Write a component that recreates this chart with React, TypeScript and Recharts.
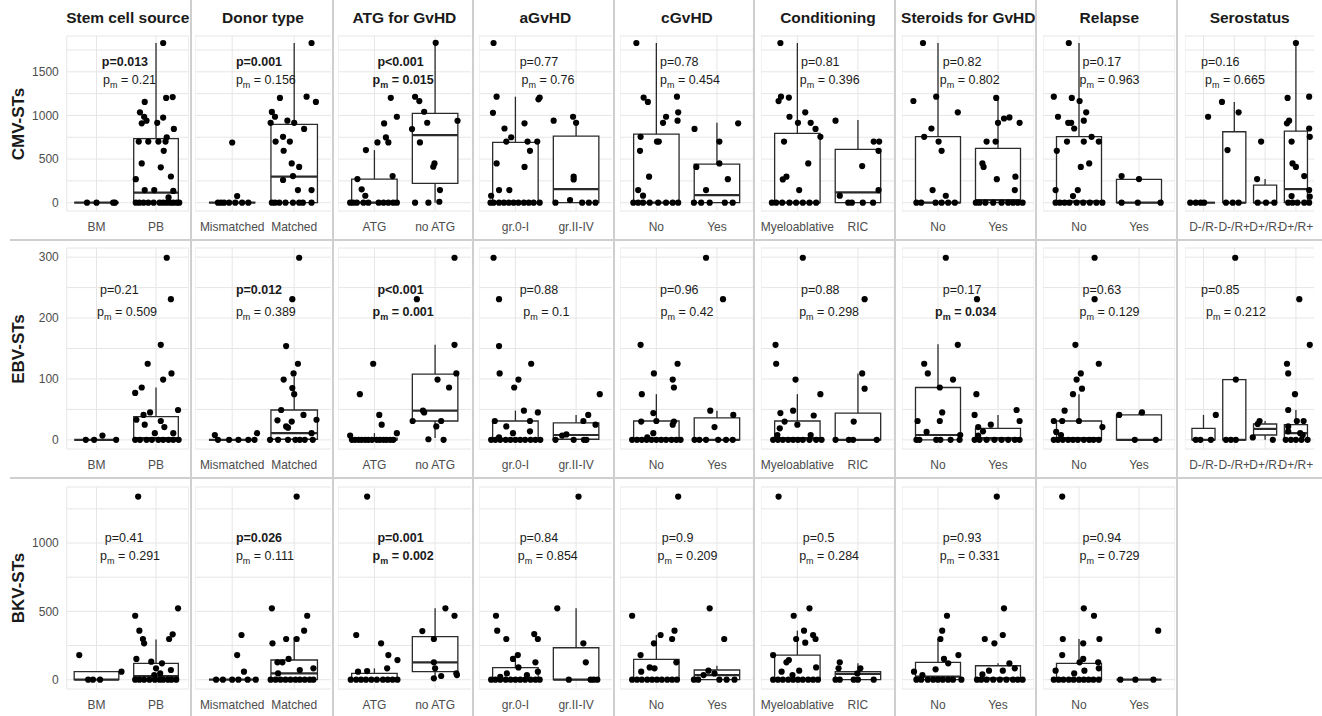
import React from 'react';
import {
  ComposedChart,
  Scatter,
  XAxis,
  YAxis,
  CartesianGrid,
  ReferenceArea,
  ReferenceLine,
  ReferenceDot,
} from 'recharts';

// ---- categories / labels ----
const ROW_LABELS = ['CMV-STs', 'EBV-STs', 'BKV-STs'];
const FACTORS = [
  'Stem cell source',
  'Donor type',
  'ATG for GvHD',
  'aGvHD',
  'cGvHD',
  'Conditioning',
  'Steroids for GvHD',
  'Relapse',
  'Serostatus',
];
const LEVELS = [
  ['BM', 'PB'],
  ['Mismatched', 'Matched'],
  ['ATG', 'no ATG'],
  ['gr.0-I', 'gr.II-IV'],
  ['No', 'Yes'],
  ['Myeloablative', 'RIC'],
  ['No', 'Yes'],
  ['No', 'Yes'],
  ['D-/R-', 'D-/R+', 'D+/R-', 'D+/R+'],
];

// ---- y axis ticks ----
const Y_MAJOR = [[0, 500, 1000, 1500], [0, 100, 200, 300], [0, 500, 1000]];
const Y_MINOR = [[250, 750, 1250, 1750], [50, 150, 250], [250, 750, 1250]];

// ---- jittered points: per factor, per level, [x offset, value] ----
const cmvPoints = [
  [
    [[-0.16, 0], [0, 0], [0.28, 0], [0.31, 0]],
    [[0.12, 1830], [-0.19, 1155], [0.17, 1200], [0.28, 1210], [-0.27, 1035], [-0.2, 985], [-0.24, 910], [-0.16, 940], [0.02, 915], [0.12, 975], [0.3, 845], [0.18, 750], [-0.29, 700], [-0.13, 700], [0.04, 700], [0.16, 700], [0.13, 595], [-0.24, 450], [0.08, 405], [0.25, 300], [-0.34, 270], [-0.19, 145], [-0.03, 145], [0.29, 135], [0.21, 60], [-0.34, 0], [-0.28, 0], [-0.21, 0], [-0.13, 0], [-0.04, 0], [0.06, 0], [0.12, 0], [0.18, 0], [0.24, 0], [0.29, 0], [0.35, 0], [0.39, 0]],
  ],
  [
    [[0, 690], [0.08, 76], [-0.23, 0], [-0.18, 0], [-0.13, 0], [-0.05, 0], [0.05, 0], [0.16, 0], [0.26, 0]],
    [[0.28, 1830], [-0.23, 1200], [0.2, 1215], [0.35, 1155], [-0.36, 1040], [-0.31, 985], [-0.38, 915], [-0.11, 940], [0, 915], [0.16, 845], [-0.18, 755], [-0.3, 700], [-0.07, 700], [-0.17, 595], [-0.04, 450], [0.08, 410], [-0.18, 260], [-0.02, 305], [0.06, 145], [0.28, 145], [-0.36, 0], [-0.31, 0], [-0.24, 0], [-0.14, 0], [-0.02, 0], [0.08, 0], [0.14, 0], [0.28, 0]],
  ],
  [
    [[0.27, 1202], [0.37, 985], [0.16, 908], [0.19, 748], [0.05, 691], [0.23, 691], [-0.14, 603], [-0.28, 271], [0.3, 305], [-0.21, 153], [-0.15, 80], [-0.4, 0], [-0.35, 0], [-0.29, 0], [-0.18, 0], [-0.1, 0], [0.07, 0], [0.15, 0], [0.23, 0], [0.31, 0], [0.37, 0]],
    [[0.01, 1832], [-0.33, 1214], [-0.26, 1164], [-0.18, 1042], [-0.13, 916], [0.37, 939], [-0.38, 844], [-0.25, 691], [-0.01, 450], [-0.03, 412], [0.08, 145], [-0.33, 0], [-0.11, 0], [0.07, 11]],
  ],
  [
    [[-0.36, 1830], [-0.31, 1215], [-0.37, 1030], [-0.18, 850], [-0.15, 700], [-0.07, 750], [0.15, 910], [0.2, 700], [0.36, 700], [0.24, 595], [-0.31, 450], [0.15, 410], [-0.27, 145], [-0.1, 145], [-0.4, 80], [0.38, 1185], [0.4, 1205], [-0.41, 0], [-0.36, 0], [-0.27, 0], [-0.19, 0], [-0.11, 0], [-0.03, 0], [0.05, 0], [0.14, 0], [0.22, 0], [0.3, 0], [0.4, 0]],
    [[-0.37, 940], [-0.05, 985], [0, 915], [-0.04, 298], [-0.04, 267], [-0.1, 30], [-0.34, 0], [0.1, 0], [0.21, 0], [0.32, 0]],
  ],
  [
    [[-0.33, 1830], [-0.21, 1205], [-0.14, 1155], [0.34, 1215], [0.36, 1035], [0.16, 985], [0.11, 915], [0.35, 940], [-0.26, 755], [0.01, 700], [0.04, 700], [-0.27, 595], [-0.12, 298], [-0.3, 145], [-0.22, 80], [-0.38, 0], [-0.3, 0], [-0.22, 0], [-0.11, 0], [0.03, 0], [0.16, 0], [0.27, 0], [0.36, 0]],
    [[-0.37, 845], [0.04, 700], [0.35, 910], [0.04, 450], [-0.34, 410], [0.18, 270], [-0.18, 145], [-0.38, 0], [-0.26, 0], [-0.12, 0], [0.13, 0], [0.26, 0]],
  ],
  [
    [[-0.28, 1830], [-0.31, 1165], [-0.27, 1215], [-0.14, 1205], [-0.13, 985], [0.13, 1035], [0.01, 915], [0.22, 915], [0.3, 845], [0.38, 755], [-0.22, 700], [0.18, 450], [-0.18, 298], [-0.24, 267], [0.03, 145], [-0.42, 0], [-0.35, 0], [-0.25, 0], [-0.13, 0], [-0.02, 0], [0.09, 0], [0.2, 0], [0.31, 0]],
    [[-0.37, 940], [0.26, 700], [0.35, 700], [0.34, 595], [0.07, 420], [0.34, 145], [-0.3, 80], [-0.16, 0], [-0.1, 0], [0.08, 0], [0.25, 0]],
  ],
  [
    [[-0.25, 1830], [-0.41, 1165], [-0.03, 1215], [0.33, 1035], [-0.11, 850], [-0.23, 755], [0.01, 700], [0.06, 595], [-0.09, 145], [0.13, 80], [-0.36, 0], [-0.28, 0], [-0.04, 0], [0.06, 0], [0.17, 0], [0.28, 0]],
    [[-0.03, 1200], [0, 915], [0.1, 965], [0.19, 977], [0.36, 915], [-0.19, 700], [-0.04, 700], [-0.26, 450], [-0.24, 410], [-0.02, 270], [0.29, 298], [0.28, 145], [-0.37, 0], [-0.31, 0], [-0.21, 0], [-0.08, 0], [0.06, 0], [0.17, 0], [0.25, 0], [0.33, 0], [0.41, 0]],
  ],
  [
    [[-0.17, 1830], [-0.42, 1215], [-0.12, 1200], [0.01, 1165], [-0.35, 985], [-0.18, 915], [-0.13, 915], [0.12, 1035], [0.08, 940], [-0.08, 850], [0.21, 755], [-0.2, 700], [0.08, 700], [0.33, 700], [-0.37, 595], [0.17, 450], [0.03, 410], [-0.39, 145], [-0.02, 145], [-0.1, 76], [-0.39, 0], [-0.32, 0], [-0.24, 0], [-0.16, 0], [-0.04, 0], [0.07, 0], [0.18, 0], [0.29, 0], [0.39, 0]],
    [[-0.29, 305], [0, 271], [-0.29, 0], [-0.02, 0], [0.36, 0]],
  ],
  [
    [[0.15, 985], [-0.43, 0], [-0.25, 0], [-0.09, 0], [0.02, 0]],
    [[-0.4, 1155], [0.14, 1035], [-0.22, 603], [-0.27, 0], [-0.05, 0], [0.14, 0]],
    [[-0.13, 700], [-0.26, 271], [-0.24, 0], [0.03, 0], [0.3, 0]],
    [[0, 1830], [-0.27, 1200], [0.43, 1215], [-0.29, 910], [-0.22, 940], [0.43, 850], [0.45, 755], [-0.14, 700], [-0.11, 450], [0, 410], [0.27, 305], [0.43, 145], [-0.14, 76], [0.45, 69], [-0.25, 0], [-0.11, 0], [0.05, 0], [0.27, 0], [0.43, 0]],
  ],
];

const ebvPoints = [
  [
    [[-0.18, 0], [-0.04, 0], [0.1, 7], [0.33, 0]],
    [[0.18, 299], [0.25, 231], [0.08, 156], [-0.14, 125], [0.26, 109], [0.12, 99], [-0.24, 86], [-0.35, 77], [0.37, 49], [-0.1, 45], [-0.21, 41], [-0.33, 33], [0.08, 31], [-0.19, 25], [0.14, 21], [-0.02, 11], [0.29, 11], [-0.35, 0], [-0.27, 0], [-0.16, 0], [-0.07, 0], [0.04, 0], [0.12, 0], [0.21, 0], [0.29, 0], [0.38, 0]],
  ],
  [
    [[-0.28, 8], [0.4, 11], [-0.23, 0], [-0.05, 0], [0.1, 0], [0.26, 0], [0.36, 0]],
    [[0.08, 299], [-0.03, 231], [-0.13, 154], [0.06, 125], [-0.01, 109], [-0.17, 99], [-0.03, 85], [0, 75], [-0.21, 49], [0.15, 41], [0.36, 33], [-0.27, 32], [-0.04, 30], [-0.13, 22], [-0.1, 20], [0.28, 11], [-0.39, 0], [-0.26, 0], [-0.1, 0], [0.02, 0], [0.09, 0], [0.17, 0], [0.3, 0]],
  ],
  [
    [[-0.02, 125], [-0.24, 75], [0.08, 41], [0.12, 25], [-0.4, 7], [0.37, 11], [-0.37, 0], [-0.32, 0], [-0.26, 0], [-0.21, 0], [-0.15, 0], [-0.1, 0], [-0.04, 0], [0.04, 0], [0.09, 0], [0.15, 0], [0.2, 0], [0.26, 0], [0.31, 0]],
    [[0.32, 299], [-0.3, 231], [0.32, 156], [0.35, 109], [0.04, 99], [0.23, 86], [-0.2, 48], [-0.18, 45], [-0.37, 31], [0.1, 31], [0.02, 22], [-0.11, 1], [0.14, 0]],
  ],
  [
    [[-0.36, 299], [-0.27, 231], [-0.27, 154], [-0.26, 109], [0.26, 125], [0.05, 99], [-0.02, 86], [0.14, 48], [0.37, 45], [-0.34, 31], [0.24, 31], [-0.15, 22], [-0.04, 11], [0.24, 14], [-0.27, 4], [-0.4, 0], [-0.33, 0], [-0.25, 0], [-0.16, 0], [-0.08, 0], [0, 0], [0.08, 0], [0.16, 0], [0.25, 0], [0.33, 0], [0.41, 0]],
    [[0.39, 75], [0.2, 41], [0.12, 31], [0.32, 25], [-0.16, 9], [-0.23, 7], [-0.34, 0], [-0.04, 0], [0.13, 0], [0.17, 0]],
  ],
  [
    [[-0.26, 156], [0.35, 125], [-0.04, 109], [0.27, 99], [0.29, 86], [-0.24, 75], [-0.05, 44], [-0.25, 30], [0, 31], [0.29, 30], [0.27, 25], [-0.05, 11], [-0.15, 4], [-0.4, 0], [-0.32, 0], [-0.24, 0], [-0.16, 0], [-0.08, 0], [0, 0], [0.08, 0], [0.16, 0], [0.25, 0], [0.33, 0], [0.4, 0]],
    [[-0.18, 299], [0.1, 231], [-0.11, 48], [0.27, 41], [-0.04, 21], [-0.37, 0], [-0.29, 0], [-0.18, 0], [0.02, 0], [0.15, 0], [0.26, 0]],
  ],
  [
    [[0.09, 299], [-0.36, 156], [-0.35, 125], [-0.03, 99], [0.38, 75], [-0.07, 48], [-0.28, 44], [0.27, 40], [-0.21, 30], [0, 25], [-0.29, 19], [-0.33, 8], [0.22, 8], [-0.4, 0], [-0.32, 0], [-0.24, 0], [-0.15, 0], [-0.07, 0], [0.01, 0], [0.09, 0], [0.2, 0], [0.31, 0], [0.4, 0]],
    [[0.11, 231], [0.07, 109], [0.11, 84], [-0.07, 30], [-0.37, 0], [-0.15, 0], [-0.08, 0], [0.31, 0]],
  ],
  [
    [[0.13, 299], [0.33, 156], [-0.23, 125], [-0.17, 109], [0.25, 99], [0.03, 86], [0.07, 45], [-0.34, 31], [0.03, 31], [-0.19, 13], [0.37, 8], [-0.36, 0], [-0.31, 0], [-0.03, 0], [0.04, 0], [0.21, 0], [0.36, 0]],
    [[-0.35, 231], [-0.36, 75], [-0.39, 41], [0.31, 49], [0.36, 31], [-0.12, 25], [-0.33, 21], [-0.25, 14], [-0.33, 7], [-0.39, 0], [-0.31, 0], [-0.19, 0], [-0.06, 0], [0.06, 0], [0.17, 0], [0.28, 0], [0.36, 0]],
  ],
  [
    [[0.26, 299], [0.26, 231], [-0.06, 156], [0.33, 125], [0.03, 109], [-0.04, 99], [0.05, 84], [-0.1, 75], [-0.24, 48], [-0.42, 31], [-0.28, 31], [0, 31], [0.39, 21], [-0.38, 13], [-0.3, 8], [-0.42, 0], [-0.35, 0], [-0.27, 0], [-0.18, 0], [-0.1, 0], [-0.02, 0], [0.08, 0], [0.17, 0], [0.24, 0], [0.33, 0]],
    [[-0.33, 41], [0.05, 45], [-0.07, 0], [0.28, 0]],
  ],
  [
    [[0.4, 41], [0.24, 0], [-0.25, 0], [-0.1, 0]],
    [[0.03, 299], [0.05, 99], [-0.27, 0], [-0.11, 0], [0.05, 0]],
    [[-0.18, 31], [-0.24, 26], [-0.4, 4], [0.25, 0]],
    [[0.11, 231], [0.45, 156], [-0.29, 125], [-0.25, 109], [-0.03, 75], [-0.25, 49], [0.25, 31], [0.03, 31], [-0.25, 22], [-0.25, 14], [0.14, 11], [0.22, 8], [-0.33, 0], [-0.16, 0], [0, 0], [0.18, 0], [0.38, 0]],
  ],
];

const bkvPoints = [
  [
    [[-0.29, 180], [0.42, 59], [-0.14, 0], [-0.06, 0], [0.06, 0]],
    [[-0.3, 1340], [0.37, 522], [-0.35, 468], [-0.28, 359], [-0.22, 298], [-0.2, 266], [0.22, 298], [0.28, 332], [-0.33, 152], [-0.08, 132], [0.1, 120], [0, 83], [0.25, 71], [0.07, 46], [-0.03, 34], [-0.35, 0], [-0.28, 0], [-0.2, 0], [-0.11, 0], [-0.02, 0], [0.06, 0], [0.12, 0], [0.2, 0], [0.26, 0], [0.34, 0]],
  ],
  [
    [[0.15, 327], [0.08, 180], [0.19, 59], [-0.26, 0], [-0.15, 0], [0, 0], [0.1, 0], [0.25, 0], [0.38, 0]],
    [[0.04, 1340], [-0.36, 522], [0.21, 468], [0.16, 359], [-0.13, 298], [0.04, 298], [-0.35, 266], [-0.09, 152], [-0.27, 127], [-0.19, 127], [0.31, 83], [0.09, 71], [-0.26, 46], [-0.38, 0], [-0.3, 0], [-0.22, 0], [-0.14, 0], [-0.06, 0], [0.02, 0], [0.09, 0], [0.17, 0], [0.25, 0], [0.31, 0]],
  ],
  [
    [[-0.12, 1340], [-0.3, 327], [0.11, 266], [0.23, 180], [0.38, 144], [0.21, 83], [-0.27, 59], [-0.12, 63], [-0.39, 0], [-0.3, 0], [-0.22, 0], [-0.14, 0], [-0.05, 0], [0.04, 0], [0.14, 0], [0.22, 0], [0.3, 0], [0.38, 0]],
    [[0.17, 522], [0.32, 468], [-0.21, 356], [-0.02, 298], [-0.02, 127], [0, 83], [0.35, 46], [0.36, 34], [0.1, 27], [-0.02, 10]],
  ],
  [
    [[-0.32, 468], [-0.3, 359], [-0.15, 298], [0.31, 334], [0.37, 298], [0.04, 180], [-0.04, 152], [0.05, 90], [0.33, 127], [0.37, 59], [-0.25, 20], [-0.14, 46], [0.19, 34], [-0.4, 0], [-0.33, 0], [-0.25, 0], [-0.16, 0], [-0.08, 0], [0, 0], [0.08, 0], [0.16, 0], [0.25, 0], [0.33, 0], [0.4, 0]],
    [[0.04, 1340], [-0.31, 522], [0.12, 266], [0.16, 127], [-0.12, 0], [0.24, 0], [0.29, 0], [0.35, 0]],
  ],
  [
    [[0.36, 1340], [-0.4, 468], [0.3, 359], [0.07, 327], [-0.04, 266], [0.26, 298], [-0.26, 180], [0.33, 127], [-0.11, 90], [-0.03, 83], [-0.25, 59], [-0.4, 0], [-0.32, 0], [-0.24, 0], [-0.15, 0], [-0.07, 0], [0.01, 0], [0.09, 0], [0.18, 0], [0.26, 0], [0.34, 0]],
    [[-0.12, 522], [0.12, 298], [-0.14, 66], [-0.22, 34], [-0.04, 46], [-0.38, 0], [-0.31, 0], [0.04, 0], [0.16, 0], [0.29, 0]],
  ],
  [
    [[-0.31, 1340], [0.2, 522], [-0.06, 468], [0.11, 359], [-0.02, 298], [0.13, 271], [0.26, 327], [0.3, 298], [-0.4, 180], [-0.14, 144], [-0.18, 127], [0.31, 90], [-0.26, 59], [0.03, 66], [-0.08, 34], [-0.4, 0], [-0.32, 0], [-0.24, 0], [-0.15, 0], [-0.07, 0], [0.01, 0], [0.09, 0], [0.18, 0], [0.26, 0], [0.34, 0]],
    [[-0.3, 127], [-0.32, 83], [0.04, 83], [-0.01, 46], [-0.37, 0], [-0.3, 0], [-0.07, 0], [0, 0], [0.26, 0]],
  ],
  [
    [[0.15, 468], [0.07, 359], [0.04, 298], [0.34, 180], [0.1, 152], [0.17, 120], [-0.04, 76], [-0.4, 59], [-0.26, 34], [-0.36, 0], [-0.28, 0], [-0.17, 0], [-0.08, 0], [0, 0], [0.08, 0], [0.17, 0], [0.25, 0], [0.39, 0]],
    [[-0.02, 1340], [0.1, 522], [0.08, 327], [-0.22, 298], [-0.06, 266], [0.19, 120], [0.28, 83], [-0.15, 66], [0.08, 66], [-0.26, 39], [-0.35, 0], [-0.28, 0], [-0.19, 0], [-0.08, 0], [0.03, 0], [0.14, 0], [0.25, 0], [0.33, 0], [0.41, 0]],
  ],
  [
    [[-0.28, 1340], [0.08, 522], [0.25, 468], [-0.27, 298], [0.07, 266], [0.34, 298], [-0.28, 180], [0.07, 152], [0.01, 127], [0.32, 127], [0.33, 83], [-0.39, 66], [0.09, 66], [-0.08, 46], [-0.42, 0], [-0.34, 0], [-0.26, 0], [-0.17, 0], [-0.09, 0], [0, 0], [0.08, 0], [0.16, 0], [0.24, 0], [0.33, 0]],
    [[0.32, 359], [-0.31, 0], [-0.06, 0], [0.24, 0]],
  ],
];

// ---- box stats: [lower whisker, q1, median, q3, upper whisker] ----
const cmvBoxes = [
  [[0, 0, 0, 0, 0], [0, 0, 115, 735, 1830]],
  [[0, 0, 0, 0, 0], [0, 0, 298, 897, 1830]],
  [[0, 0, 0, 271, 603], [0, 221, 775, 1023, 1832]],
  [[0, 0, 0, 691, 1215], [0, 0, 156, 763, 915]],
  [[0, 0, 0, 786, 1830], [0, 0, 88, 443, 915]],
  [[0, 0, 0, 794, 1830], [0, 0, 118, 611, 947]],
  [[0, 0, 0, 756, 1830], [0, 0, 30, 622, 1200]],
  [[0, 0, 15, 756, 1830], [0, 0, 0, 267, 305]],
  [[0, 0, 0, 0, 0], [0, 0, 0, 813, 1155], [0, 0, 0, 202, 271], [0, 0, 156, 820, 1830]],
];
const ebvBoxes = [
  [[0, 0, 0, 0, 0], [0, 0, 3, 38, 86]],
  [[0, 0, 0, 0, 0], [0, 1, 11, 49, 104]],
  [[0, 0, 0, 3, 11], [3, 31, 48, 108, 156]],
  [[0, 0, 0, 31, 48], [0, 1, 8, 28, 41]],
  [[0, 0, 2, 31, 75], [0, 0, 0, 36, 48]],
  [[0, 0, 3, 31, 75], [0, 0, 0, 44, 109]],
  [[0, 0, 8, 86, 157], [0, 0, 3, 19, 41]],
  [[0, 0, 3, 31, 75], [0, 0, 0, 41, 45]],
  [[0, 0, 0, 19, 41], [0, 0, 0, 99, 99], [0, 8, 18, 26, 31], [0, 0, 11, 25, 49]],
];
const bkvBoxes = [
  [[0, 0, 0, 59, 59], [0, 0, 27, 120, 295]],
  [[0, 0, 0, 0, 0], [0, 0, 46, 144, 310]],
  [[0, 0, 0, 46, 83], [5, 59, 127, 315, 522]],
  [[0, 0, 0, 88, 180], [0, 0, 0, 234, 522]],
  [[0, 0, 0, 149, 327], [0, 0, 34, 71, 102]],
  [[0, 0, 0, 180, 359], [0, 0, 42, 59, 120]],
  [[0, 0, 22, 127, 298], [0, 0, 10, 102, 120]],
  [[0, 0, 0, 120, 298], [0, 0, 0, 0, 0]],
];

// ---- test results ----
const pText = [
  ['p=0.013', 'p=0.001', 'p<0.001', 'p=0.77', 'p=0.78', 'p=0.81', 'p=0.82', 'p=0.17', 'p=0.16'],
  ['p=0.21', 'p=0.012', 'p<0.001', 'p=0.88', 'p=0.96', 'p=0.88', 'p=0.17', 'p=0.63', 'p=0.85'],
  ['p=0.41', 'p=0.026', 'p=0.001', 'p=0.84', 'p=0.9', 'p=0.5', 'p=0.93', 'p=0.94'],
];
const pBold = [
  [true, true, true, false, false, false, false, false, false],
  [false, true, true, false, false, false, false, false, false],
  [false, true, true, false, false, false, false, false],
];
const pmText = [
  ['0.21', '0.156', '0.015', '0.76', '0.454', '0.396', '0.802', '0.963', '0.665'],
  ['0.509', '0.389', '0.001', '0.1', '0.42', '0.298', '0.034', '0.129', '0.212'],
  ['0.291', '0.111', '0.002', '0.854', '0.209', '0.284', '0.331', '0.729'],
];
const pmBold = [
  [false, false, true, false, false, false, false, false, false],
  [false, false, true, false, false, false, true, false, false],
  [false, false, true, false, false, false, false, false],
];

const ROW_POINTS = [cmvPoints, ebvPoints, bkvPoints];
const ROW_BOXES = [cmvBoxes, ebvBoxes, bkvBoxes];

// ---- layout ----
const COL_LEFT = [66.75, 194.8, 337.6, 478.6, 620.3, 761.3, 902.3, 1043.3, 1185];
const COL_WIDTH = [122, 136.4, 133.5, 133.5, 133.3, 133.3, 132, 132, 129.4];
const COL_DOMAIN = [[0.5, 2.55], [0.4, 2.6], [0.4, 2.6], [0.4, 2.6], [0.4, 2.6], [0.4, 2.6], [0.4, 2.6], [0.4, 2.6], [0.4, 4.6]];
const ROW_PLOT = [[36, 175], [248, 201], [487, 202]];
const Y_DOMAIN = [[-95, 1910], [-15, 315], [-68, 1410]];
const ANNO_Y = [[1611, 1405], [246, 210], [1037, 905]];
const ANNO_X = [
  [[1.09, 1.11], [1.06, 1.06], [1.05, 0.97], [1.07, 1.1], [1.06, 1.06], [1.06, 1.04], [1.08, 1.03], [1.06, 1.01], [0.92, 1.05]],
  [[1.06, 1.01], [1.06, 1.06], [1.05, 0.97], [1.07, 1.13], [1.06, 1.07], [1.06, 1.03], [1.08, 0.95], [1.06, 1.01], [0.92, 1.08]],
  [[1.14, 1.06], [1.06, 1.06], [1.05, 0.97], [1.07, 1.04], [1.09, 1.02], [1.09, 1.03], [1.08, 1.03], [1.06, 1.01]],
];
const SEP_X = [191, 333, 473, 614, 754, 895, 1036, 1177];
const SEP_Y = [240, 478];

const PAD_TOP = 6;
const X_AXIS_H = 28;
const Y_AXIS_W = 66.75;
const BOX_HALF = 0.375;
const INK = '#2b2b2b';
const FONT = '"Liberation Sans", Arial, Helvetica, sans-serif';

const dot = (p: any) => <circle cx={p.cx} cy={p.cy} r={3.1} fill="#000" />;

const Panel = ({ row, col }: { row: number; col: number }) => {
  const levels = LEVELS[col];
  const points = ROW_POINTS[row][col];
  const boxes = ROW_BOXES[row][col];
  const [plotTop, plotH] = ROW_PLOT[row];
  const yw = col === 0 ? Y_AXIS_W : 0;
  const majors = Y_MAJOR[row];
  const gridTicks = [...majors, ...Y_MINOR[row]].sort((a, b) => a - b);
  const data = points.flatMap((lv, i) => lv.map(([dx, v]) => ({ x: i + 1 + dx, y: v })));
  const [ax, amx] = ANNO_X[row][col];
  const [ay, amy] = ANNO_Y[row];
  const pb = pBold[row][col];
  const pmb = pmBold[row][col];

  return (
    <div style={{ position: 'absolute', left: COL_LEFT[col] - yw, top: plotTop - PAD_TOP }}>
      <ComposedChart
        width={COL_WIDTH[col] + yw}
        height={PAD_TOP + plotH + X_AXIS_H}
        margin={{ top: PAD_TOP, right: 0, bottom: 0, left: 0 }}
      >
        <CartesianGrid stroke="#e6e6e6" strokeWidth={1} />
        <XAxis
          type="number"
          dataKey="x"
          domain={COL_DOMAIN[col]}
          ticks={levels.map((_, i) => i + 1)}
          tickFormatter={(t: number) => levels[Math.round(t) - 1]}
          interval={0}
          axisLine={false}
          tickLine={false}
          tickSize={0}
          tickMargin={11}
          height={X_AXIS_H}
          allowDataOverflow
          tick={{ fill: '#4d4d4d', fontSize: 12 }}
        />
        <YAxis
          type="number"
          dataKey="y"
          domain={Y_DOMAIN[row]}
          ticks={gridTicks}
          interval={0}
          tickFormatter={(t: number) => (majors.includes(t) ? String(t) : '')}
          hide={col !== 0}
          width={yw}
          axisLine={false}
          tickLine={false}
          tickSize={0}
          tickMargin={8}
          allowDataOverflow
          tick={{ fill: '#4d4d4d', fontSize: 12 }}
        />
        {boxes.flatMap((b, i) => {
          const [lo, q1, med, q3, hi] = b;
          const c = i + 1;
          const els = [];
          if (hi > q3)
            els.push(<ReferenceLine key={`wu${i}`} segment={[{ x: c, y: q3 }, { x: c, y: hi }]} stroke={INK} strokeWidth={1.3} />);
          if (q1 > lo)
            els.push(<ReferenceLine key={`wl${i}`} segment={[{ x: c, y: lo }, { x: c, y: q1 }]} stroke={INK} strokeWidth={1.3} />);
          if (q3 > q1)
            els.push(
              <ReferenceArea key={`b${i}`} x1={c - BOX_HALF} x2={c + BOX_HALF} y1={q1} y2={q3} fill="#fff" fillOpacity={1} stroke={INK} strokeWidth={1.3} />
            );
          els.push(
            <ReferenceLine key={`m${i}`} segment={[{ x: c - BOX_HALF, y: med }, { x: c + BOX_HALF, y: med }]} stroke={INK} strokeWidth={2.2} />
          );
          return els;
        })}
        <Scatter data={data} isAnimationActive={false} shape={dot} />
        <ReferenceDot
          x={ax}
          y={ay}
          r={0}
          shape={(p: any) => (
            <text x={p.cx} y={p.cy} dy="0.35em" fontSize={12.5} fontWeight={pb ? 700 : 400} fill="#1a1a1a">
              {pText[row][col]}
            </text>
          )}
        />
        <ReferenceDot
          x={amx}
          y={amy}
          r={0}
          shape={(p: any) => (
            <text x={p.cx} y={p.cy} dy="0.35em" fontSize={12.5} fontWeight={pmb ? 700 : 400} fill="#1a1a1a">
              <tspan>p</tspan>
              <tspan fontSize={9} dy={4}>m</tspan>
              <tspan dy={-4}>{(pmb ? ' =  ' : ' = ') + pmText[row][col]}</tspan>
            </text>
          )}
        />
      </ComposedChart>
    </div>
  );
};

export default function App() {
  return (
    <div
      style={{
        position: 'absolute',
        left: 0,
        top: 0,
        width: 1322,
        height: 716,
        background: '#fff',
        overflow: 'hidden',
        fontFamily: FONT,
      }}
    >
      {ROW_LABELS.map((label, r) =>
        pText[r].map((_, c) => <Panel key={`${r}-${c}`} row={r} col={c} />)
      )}

      {FACTORS.map((f, c) => (
        <div
          key={f}
          style={{
            position: 'absolute',
            left: COL_LEFT[c] - 20,
            width: COL_WIDTH[c] + 40,
            top: 8,
            height: 20,
            lineHeight: '20px',
            textAlign: 'center',
            fontWeight: 700,
            fontSize: 15.5,
            color: '#1a1a1a',
            whiteSpace: 'nowrap',
          }}
        >
          {f}
        </div>
      ))}

      {ROW_LABELS.map((label, r) => (
        <div
          key={label}
          style={{
            position: 'absolute',
            left: 19 - 60,
            top: ROW_PLOT[r][0] + ROW_PLOT[r][1] / 2 - 11,
            width: 120,
            height: 22,
            lineHeight: '22px',
            textAlign: 'center',
            fontWeight: 700,
            fontSize: 17,
            color: '#1a1a1a',
            transform: 'rotate(-90deg)',
          }}
        >
          {label}
        </div>
      ))}

      {SEP_X.map((x) => (
        <div key={`sx${x}`} style={{ position: 'absolute', left: x - 1, top: 0, width: 2, height: 716, background: '#cfcfcf' }} />
      ))}
      {SEP_Y.map((y) => (
        <div key={`sy${y}`} style={{ position: 'absolute', left: 10, top: y - 1, width: 1312, height: 2, background: '#cfcfcf' }} />
      ))}
    </div>
  );
}
